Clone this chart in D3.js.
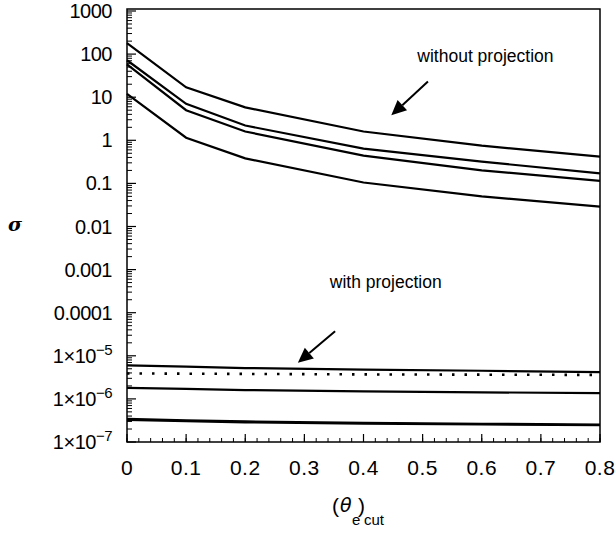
<!DOCTYPE html>
<html>
<head>
<meta charset="utf-8">
<script src="https://cdn.jsdelivr.net/npm/d3@7"></script>
<style>
  body { margin: 0; background: #fff; }
  svg { font-family: "Liberation Sans", Arial, sans-serif; }
</style>
</head>
<body>
<div id="chart"></div>
<script>
// cut values on the x axis
const cutValues = [0, 0.1, 0.2, 0.4, 0.6, 0.8];

// cross sections without projection
const noProjA = [180, 17, 5.8, 1.6, 0.75, 0.42];
const noProjB = [72, 7.0, 2.2, 0.64, 0.32, 0.17];
const noProjC = [58, 5.0, 1.6, 0.44, 0.2, 0.115];
const noProjD = [12, 1.15, 0.38, 0.105, 0.05, 0.029];

// cross sections with projection
const projA = [6.0e-6, 5.6e-6, 5.2e-6, 4.8e-6, 4.5e-6, 4.2e-6];
const projDotted = [3.9e-6, 3.85e-6, 3.8e-6, 3.7e-6, 3.65e-6, 3.6e-6];
const projC = [1.8e-6, 1.7e-6, 1.6e-6, 1.5e-6, 1.42e-6, 1.36e-6];
const projD = [3.45e-7, 3.2e-7, 3.0e-7, 2.8e-7, 2.65e-7, 2.55e-7];
const projE = [3.25e-7, 3.05e-7, 2.85e-7, 2.68e-7, 2.55e-7, 2.45e-7];

const yTickValues = [1000, 100, 10, 1, 0.1, 0.01, 0.001, 0.0001, 1e-5, 1e-6, 1e-7];
const xTickValues = [0, 0.1, 0.2, 0.3, 0.4, 0.5, 0.6, 0.7, 0.8];

const W = 615, H = 533;
const margin = { top: 11, right: 15, bottom: 91, left: 127 };
const width = W - margin.left - margin.right;
const height = H - margin.top - margin.bottom;

const svg = d3.select('#chart')
  .append('svg')
  .attr('width', W)
  .attr('height', H);

const g = svg.append('g')
  .attr('transform', `translate(${margin.left},${margin.top})`);

const x = d3.scaleLinear().domain([0, 0.8]).range([0, width]);
const y = d3.scaleLog().domain([1e-7, 1000]).range([height, 0]);

// frame
g.append('rect')
  .attr('x', 0).attr('y', -2)
  .attr('width', width).attr('height', height + 2)
  .attr('fill', 'none')
  .attr('stroke', '#000')
  .attr('stroke-width', 1.5);

// y ticks: major + log minor, pointing inward
const minorY = [];
for (let e = -7; e < 3; e++) {
  for (let m = 2; m <= 9; m++) minorY.push(m * Math.pow(10, e));
}
g.selectAll('.ymin').data(minorY).join('line')
  .attr('x1', 0).attr('x2', 5)
  .attr('y1', d => y(d)).attr('y2', d => y(d))
  .attr('stroke', '#000').attr('stroke-width', 1);
g.selectAll('.ymaj').data(yTickValues).join('line')
  .attr('x1', 0).attr('x2', 9)
  .attr('y1', d => y(d)).attr('y2', d => y(d))
  .attr('stroke', '#000').attr('stroke-width', 1.2);

// x ticks
const minorX = d3.range(0, 0.8001, 0.02);
g.selectAll('.xmin').data(minorX).join('line')
  .attr('x1', d => x(d)).attr('x2', d => x(d))
  .attr('y1', height).attr('y2', height - 4)
  .attr('stroke', '#000').attr('stroke-width', 1);
g.selectAll('.xmaj').data(xTickValues).join('line')
  .attr('x1', d => x(d)).attr('x2', d => x(d))
  .attr('y1', height).attr('y2', height - 8)
  .attr('stroke', '#000').attr('stroke-width', 1.2);

// y tick labels
const fmtY = d => {
  if (d >= 1e-4) return null;
  return Math.round(Math.log10(d));
};
yTickValues.forEach(v => {
  const t = g.append('text')
    .attr('x', -15)
    .attr('y', y(v) + 7)
    .attr('text-anchor', 'end')
    .attr('font-size', 20)
    .attr('letter-spacing', -0.5);
  const ex = fmtY(v);
  if (ex === null) {
    t.text(v >= 1 ? String(v) : d3.format('~f')(v));
  } else {
    t.append('tspan').text('1\u00d710');
    t.append('tspan').attr('dy', -8).attr('font-size', 15).text('\u2212' + Math.abs(ex));
  }
});

// x tick labels
g.selectAll('.xlab').data(xTickValues).join('text')
  .attr('x', d => x(d))
  .attr('y', height + 33)
  .attr('text-anchor', 'middle')
  .attr('font-size', 21)
  .attr('letter-spacing', 0.5)
  .text(d => d3.format('~g')(d));

// series
const line = d3.line()
  .x((d, i) => x(cutValues[i]))
  .y(d => y(d));

[noProjA, noProjB, noProjC, noProjD, projA, projC, projD, projE].forEach(s => {
  g.append('path')
    .datum(s)
    .attr('d', line)
    .attr('fill', 'none')
    .attr('stroke', '#000')
    .attr('stroke-width', 2.2);
});
g.append('path')
  .datum(projDotted)
  .attr('d', line)
  .attr('fill', 'none')
  .attr('stroke', '#000')
  .attr('stroke-width', 2.6)
  .attr('stroke-dasharray', '2.5,10');

// annotations
function arrow(x0, y0, x1, y1) {
  const ax = x(x0), ay = y(y0), bx = x(x1), by = y(y1);
  const ang = Math.atan2(by - ay, bx - ax);
  const L = 15, Wd = 7;
  const baseX = bx - L * Math.cos(ang), baseY = by - L * Math.sin(ang);
  g.append('line')
    .attr('x1', ax).attr('y1', ay)
    .attr('x2', baseX).attr('y2', baseY)
    .attr('stroke', '#000').attr('stroke-width', 2);
  const px = -Math.sin(ang) * Wd, py = Math.cos(ang) * Wd;
  g.append('path')
    .attr('d', `M${bx},${by}L${baseX + px},${baseY + py}L${baseX - px},${baseY - py}Z`)
    .attr('fill', '#000');
}

g.append('text')
  .attr('x', x(0.491)).attr('y', y(66))
  .attr('font-size', 17.5)
  .text('without projection');
arrow(0.509, 23, 0.447, 3.8);

g.append('text')
  .attr('x', x(0.343)).attr('y', y(3.7e-4))
  .attr('font-size', 17.5)
  .text('with projection');
arrow(0.352, 3.7e-5, 0.289, 6.9e-6);

// axis titles
svg.append('text')
  .attr('x', 15).attr('y', 231)
  .attr('text-anchor', 'middle')
  .attr('font-size', 19)
  .attr('font-weight', 'bold')
  .attr('font-family', '"DejaVu Serif", serif')
  .attr('font-style', 'italic')
  .text('\u03c3');

svg.append('text').attr('x', 332).attr('y', 513).attr('font-size', 21).text('(');
svg.append('text').attr('x', 340).attr('y', 512).attr('font-size', 19)
  .attr('font-style', 'italic').attr('font-family', '"DejaVu Sans", sans-serif').text('\u03b8');
svg.append('text').attr('x', 352).attr('y', 525).attr('font-size', 15).text('e');
svg.append('text').attr('x', 358).attr('y', 513).attr('font-size', 21).text(')');
svg.append('text').attr('x', 364).attr('y', 525).attr('font-size', 15).text('cut');
</script>
</body>
</html>
